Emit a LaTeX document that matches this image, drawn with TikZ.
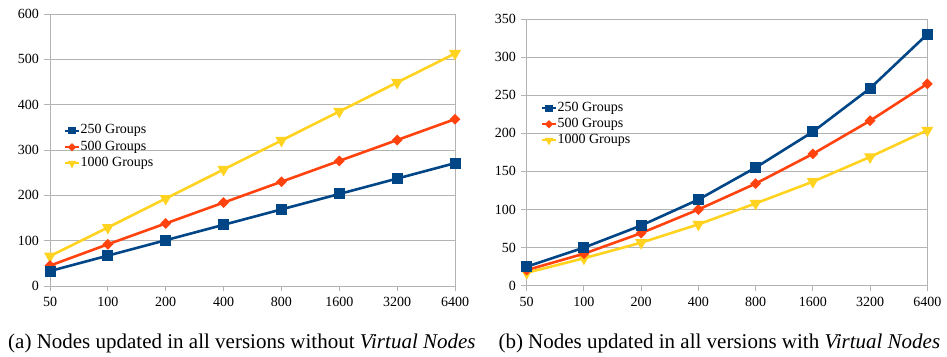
\documentclass[tikz,border=0pt]{standalone}
\usepackage{fontspec}
\setmainfont{Liberation Serif}
\newfontfamily\chartfont{Liberation Serif}
\usetikzlibrary{shapes.geometric}
\definecolor{cblue}{HTML}{004586}
\definecolor{corange}{HTML}{FF420E}
\definecolor{cyellow}{HTML}{FFD320}
\definecolor{cgrid}{HTML}{B3B3B3}
\begin{document}
\begin{tikzpicture}[x=1pt,y=-1pt,
  gridline/.style={draw=cgrid, line width=1pt},
  ticklbl/.style={font=\chartfont\fontsize{14}{16}\selectfont, inner sep=0pt},
  series/.style={line width=2.6pt, line join=round},
  sqmark/.style={rectangle, fill=cblue, minimum size=11pt, inner sep=0pt},
  dmmark/.style={diamond, fill=corange, minimum size=11pt, inner sep=0pt},
  trmark/.style={regular polygon, regular polygon sides=3, shape border rotate=180, fill=cyellow, minimum size=14pt, inner sep=0pt},
  sqsmall/.style={sqmark, minimum size=7.5pt},
  dmsmall/.style={dmmark, minimum size=8.5pt},
  trsmall/.style={trmark, minimum size=10pt},
  legtext/.style={font=\chartfont\fontsize{14}{16}\selectfont, inner sep=0pt, anchor=west},
  captext/.style={font=\chartfont\fontsize{21}{23}\selectfont, inner sep=0pt, anchor=base west}
]
\useasboundingbox (0,0) rectangle (947,356);

% ---------------- Left chart ----------------
\foreach \k/\lab in {0/0,1/100,2/200,3/300,4/400,5/500,6/600}{
  \pgfmathsetmacro{\yy}{286-45.333*\k}
  \draw[gridline] (44,\yy) -- (455,\yy);
  \node[ticklbl, anchor=east] (ly\k) at (39,\yy) {\lab};
}
\draw[gridline] (50,14) -- (50,286);
\draw[gridline] (455,14) -- (455,286);
\foreach \i/\lab in {0/50,1/100,2/200,3/400,4/800,5/1600,6/3200,7/6400}{
  \pgfmathsetmacro{\xx}{50+57.857*\i}
  \draw[gridline] (\xx,286) -- (\xx,291);
  \node[ticklbl] (lx\i) at (\xx,302) {\lab};
}
% series 1000
\draw[series, cyellow] plot coordinates {(50,{286-66*0.45333}) (107.857,{286-129*0.45333}) (165.714,{286-193*0.45333}) (223.571,{286-257*0.45333}) (281.429,{286-321*0.45333}) (339.286,{286-385*0.45333}) (397.143,{286-449*0.45333}) (455,{286-513*0.45333})};
\foreach \i/\v in {0/66,1/129,2/193,3/257,4/321,5/385,6/449,7/513}{
  \node[trmark] (lt\i) at ({50+57.857*\i},{286-\v*0.45333}) {};
}
% series 500
\draw[series, corange] plot coordinates {(50,{286-45*0.45333}) (107.857,{286-92*0.45333}) (165.714,{286-138*0.45333}) (223.571,{286-184*0.45333}) (281.429,{286-230*0.45333}) (339.286,{286-276*0.45333}) (397.143,{286-322*0.45333}) (455,{286-368*0.45333})};
\foreach \i/\v in {0/45,1/92,2/138,3/184,4/230,5/276,6/322,7/368}{
  \node[dmmark] (ld\i) at ({50+57.857*\i},{286-\v*0.45333}) {};
}
% series 250
\draw[series, cblue] plot coordinates {(50,{286-33*0.45333}) (107.857,{286-67*0.45333}) (165.714,{286-101*0.45333}) (223.571,{286-135*0.45333}) (281.429,{286-169*0.45333}) (339.286,{286-203*0.45333}) (397.143,{286-237*0.45333}) (455,{286-271*0.45333})};
\foreach \i/\v in {0/33,1/67,2/101,3/135,4/169,5/203,6/237,7/271}{
  \node[sqmark] (ls\i) at ({50+57.857*\i},{286-\v*0.45333}) {};
}
% legend left
\draw[line width=2pt, cblue] (65,130.7) -- (79,130.7);
\node[sqsmall] (lls) at (72,130.7) {};
\node[legtext] (llt1) at (80.5,130.7) {250 Groups};
\draw[line width=2pt, corange] (65,147.3) -- (79,147.3);
\node[dmsmall] (lld) at (72,147.3) {};
\node[legtext] (llt2) at (80.5,147.3) {500 Groups};
\draw[line width=2pt, cyellow] (65,163.3) -- (79,163.3);
\node[trsmall] (llt) at (72,163.3) {};
\node[legtext] (llt3) at (80.5,163.3) {1000 Groups};

% ---------------- Right chart ----------------
\foreach \k/\lab in {0/0,1/50,2/100,3/150,4/200,5/250,6/300,7/350}{
  \pgfmathsetmacro{\yy}{285.7-38.1*\k}
  \draw[gridline] (521,\yy) -- (927.3,\yy);
  \node[ticklbl, anchor=east] (ry\k) at (516,\yy) {\lab};
}
\draw[gridline] (526.7,19) -- (526.7,285.7);
\draw[gridline] (927.3,19) -- (927.3,285.7);
\foreach \i/\lab in {0/50,1/100,2/200,3/400,4/800,5/1600,6/3200,7/6400}{
  \pgfmathsetmacro{\xx}{526.7+57.229*\i}
  \draw[gridline] (\xx,285.7) -- (\xx,290.7);
  \node[ticklbl] (rx\i) at (\xx,301.5) {\lab};
}
% series 1000
\draw[series, cyellow] plot coordinates {(526.7,{285.7-17*0.762}) (583.929,{285.7-36*0.762}) (641.157,{285.7-56.5*0.762}) (698.386,{285.7-80.5*0.762}) (755.614,{285.7-108*0.762}) (812.843,{285.7-136.5*0.762}) (870.071,{285.7-169*0.762}) (927.3,{285.7-204*0.762})};
\foreach \i/\v in {0/17,1/36,2/56.5,3/80.5,4/108,5/136.5,6/169,7/204}{
  \node[trmark] (rt\i) at ({526.7+57.229*\i},{285.7-\v*0.762}) {};
}
% series 500
\draw[series, corange] plot coordinates {(526.7,{285.7-20.5*0.762}) (583.929,{285.7-42*0.762}) (641.157,{285.7-69*0.762}) (698.386,{285.7-100*0.762}) (755.614,{285.7-134*0.762}) (812.843,{285.7-173*0.762}) (870.071,{285.7-216.5*0.762}) (927.3,{285.7-265*0.762})};
\foreach \i/\v in {0/20.5,1/42,2/69,3/100,4/134,5/173,6/216.5,7/265}{
  \node[dmmark] (rd\i) at ({526.7+57.229*\i},{285.7-\v*0.762}) {};
}
% series 250
\draw[series, cblue] plot coordinates {(526.7,{285.7-25*0.762}) (583.929,{285.7-50*0.762}) (641.157,{285.7-79*0.762}) (698.386,{285.7-113*0.762}) (755.614,{285.7-155*0.762}) (812.843,{285.7-202*0.762}) (870.071,{285.7-259*0.762}) (927.3,{285.7-330*0.762})};
\foreach \i/\v in {0/25,1/50,2/79,3/113,4/155,5/202,6/259,7/330}{
  \node[sqmark] (rs\i) at ({526.7+57.229*\i},{285.7-\v*0.762}) {};
}
% legend right
\draw[line width=2pt, cblue] (542,108.3) -- (556,108.3);
\node[sqsmall] (rls) at (549,108.3) {};
\node[legtext] (rlt1) at (557.3,108.3) {250 Groups};
\draw[line width=2pt, corange] (542,124.3) -- (556,124.3);
\node[dmsmall] (rld) at (549,124.3) {};
\node[legtext] (rlt2) at (557.3,124.3) {500 Groups};
\draw[line width=2pt, cyellow] (542,140.3) -- (556,140.3);
\node[trsmall] (rlt) at (549,140.3) {};
\node[legtext] (rlt3) at (557.3,140.3) {1000 Groups};

% ---------------- Captions ----------------
\node[captext] (capa) at (8,348) {(a) Nodes updated in all versions without \textit{Virtual Nodes}};
\node[captext] (capb) at (498.3,348) {(b) Nodes updated in all versions with \textit{Virtual Nodes}};
\end{tikzpicture}
\end{document}
